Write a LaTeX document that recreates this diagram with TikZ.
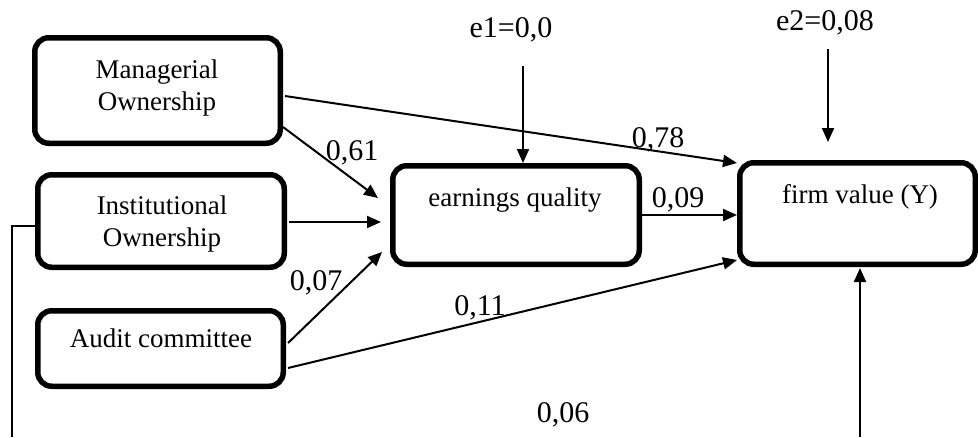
\documentclass[tikz,border=0pt]{standalone}
\usepackage{fontspec}
\setmainfont{Liberation Serif}
\usetikzlibrary{arrows.meta}
\begin{document}
\begin{tikzpicture}[x=1pt,y=-1pt,
  box/.style={draw, line width=5.5pt, rounded corners=14pt, inner sep=0pt},
  boxtext/.style={font=\fontsize{27}{32}\selectfont, align=center, inner sep=0pt},
  lbl/.style={font=\fontsize{30}{34}\selectfont, inner sep=0pt, anchor=base},
  arr/.style={line width=2pt, -{Triangle[length=14pt,width=12pt]}},
  plain/.style={line width=2pt}]
\useasboundingbox (0,0) rectangle (978,437);

% boxes
\node[box, minimum width=245.5pt, minimum height=105.5pt] (mo) at (157.5,90.5) {};
\node[box, minimum width=246.5pt, minimum height=92.5pt] (io) at (161,221) {};
\node[box, minimum width=245.5pt, minimum height=75.5pt] (ac) at (160.5,348.5) {};
\node[box, minimum width=246.5pt, minimum height=98.5pt] (eq) at (516,215) {};
\node[box, minimum width=235.5pt, minimum height=101.5pt] (fv) at (857.5,213.5) {};

% box texts
\node[boxtext] (motxt) at (157,88) {Managerial\\Ownership};
\node[boxtext] (iotxt) at (162,224) {Institutional\\Ownership};
\node[boxtext, anchor=base] (actxt) at (161,347) {Audit committee};
\node[boxtext, anchor=base] (eqtxt) at (515,206) {earnings quality};
\node[boxtext, anchor=base] (fvtxt) at (860,203) {firm value (Y)};

% error terms
\node[lbl] (e1) at (511,37) {e1=0,0};
\node[lbl] (e2) at (825,30) {e2=0,08};

% path coefficients
\node[lbl] (l61) at (352,160) {0,61};
\node[lbl] (l78) at (658,147) {0,78};
\node[lbl] (l09) at (678,207) {0,09};
\node[lbl] (l07) at (316,290) {0,07};
\node[lbl] (l11) at (480,315) {0,11};
\node[lbl] (l06) at (563,422) {0,06};

% connector end points
\coordinate (moA) at (283,127);
\coordinate (moB) at (285,96);
\coordinate (eqIn1) at (378,198);
\coordinate (ioA) at (289,222);
\coordinate (eqIn2) at (381,222);
\coordinate (acA) at (288,343);
\coordinate (eqIn3) at (382,252);
\coordinate (acB) at (288,368);
\coordinate (fvIn1) at (737,163);
\coordinate (fvIn3) at (737,260);
\coordinate (e1s) at (523,66);
\coordinate (e1t) at (523,163);
\coordinate (e2s) at (828,49);
\coordinate (e2t) at (828,142);
\coordinate (botS) at (860,437);
\coordinate (fvB) at (860,268);
\coordinate (ioL) at (35,226);
\coordinate (corner) at (12,226);
\coordinate (leftEnd) at (12,437);
\coordinate (eqR) at (642,215);
\coordinate (fvL) at (737,215);

% connectors
\draw[arr] (moA) -- (eqIn1);
\draw[arr] (ioA) -- (eqIn2);
\draw[arr] (acA) -- (eqIn3);
\draw[arr] (moB) -- (fvIn1);
\draw[arr] (eqR) -- (fvL);
\draw[arr] (acB) -- (fvIn3);
\draw[arr] (e1s) -- (e1t);
\draw[arr] (e2s) -- (e2t);
\draw[arr] (botS) -- (fvB);
\draw[plain] (ioL) -- (corner) -- (leftEnd);
\end{tikzpicture}
\end{document}
